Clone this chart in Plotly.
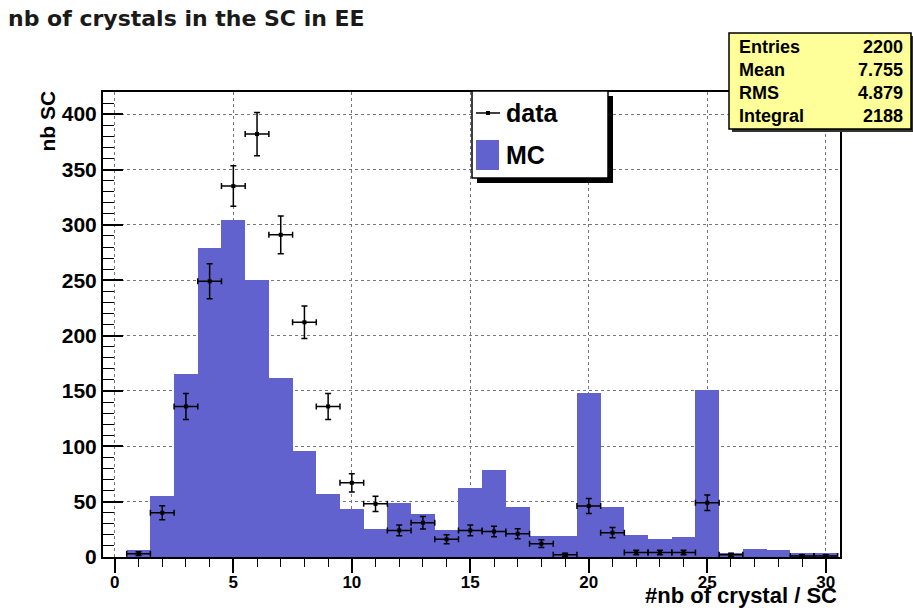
import plotly.graph_objects as go

# MC histogram (bin centres 0..30, width 1)
mc_bins = list(range(0, 31))
mc_counts = [0, 6, 55, 165, 279, 304, 250, 162, 96, 57, 43, 25, 49, 39, 24, 62,
             79, 45, 19, 19, 148, 45, 20, 16, 18, 151, 4, 7, 6, 4, 4]

# data points with errors
data_x = list(range(1, 31))
data_y = [3, 40, 136, 249, 335, 382, 291, 212, 136, 67, 48, 24, 31, 16, 24, 23,
          21, 12, 2, 46, 22, 4, 4, 4, 49, 2, None, None, 1, 1]
data_err = [1.7, 6.3, 11.7, 15.8, 18.3, 19.5, 17.1, 14.6, 11.7, 8.2, 6.9, 4.9,
            5.6, 4.0, 4.9, 4.8, 4.6, 3.5, 1.4, 6.8, 4.7, 2.0, 2.0, 2.0, 7.0,
            1.4, None, None, 1.0, 1.0]

stat_names = ["Entries", "Mean", "RMS", "Integral"]
stat_values = ["2200", "7.755", "4.879", "2188"]

MC_COLOR = "#6262ce"
W, H = 913, 608
L, R, T, B = 103, 73, 92, 51


def px(xp):
    return (xp - L) / (W - L - R)


def py(yp):
    return (H - B - yp) / (H - T - B)


fig = go.Figure()
fig.add_trace(go.Bar(x=mc_bins, y=mc_counts, width=1, name="MC",
                     marker=dict(color=MC_COLOR, line=dict(width=0)),
                     showlegend=False))
fig.add_trace(go.Scatter(
    x=data_x, y=data_y, mode="markers", name="data", showlegend=False,
    marker=dict(symbol="square", size=4, color="black"),
    error_y=dict(type="data", array=data_err, color="black", thickness=1.5, width=3),
    error_x=dict(type="constant", value=0.5, color="black", thickness=1.5, width=3),
))

shapes = []
annotations = []

# legend box (manual, ROOT style)
shapes.append(dict(type="rect", xref="paper", yref="paper", x0=px(477), x1=px(613),
                   y0=py(183), y1=py(96), fillcolor="black", line=dict(width=0)))
shapes.append(dict(type="rect", xref="paper", yref="paper", x0=px(472), x1=px(608),
                   y0=py(178), y1=py(91), fillcolor="white",
                   line=dict(color="black", width=1.5)))
shapes.append(dict(type="line", xref="paper", yref="paper", x0=px(476), x1=px(500),
                   y0=py(113), y1=py(113), line=dict(color="black", width=1.5)))
shapes.append(dict(type="rect", xref="paper", yref="paper", x0=px(486), x1=px(490),
                   y0=py(115), y1=py(111), fillcolor="black", line=dict(width=0)))
shapes.append(dict(type="rect", xref="paper", yref="paper", x0=px(476), x1=px(499),
                   y0=py(170), y1=py(140), fillcolor=MC_COLOR, line=dict(width=0)))
for name, yp in [("data", 113), ("MC", 155)]:
    annotations.append(dict(text="<b>%s</b>" % name, xref="paper", yref="paper",
                            x=px(504), y=py(yp), xanchor="left", yanchor="middle",
                            showarrow=False,
                            font=dict(family="Liberation Sans", size=25, color="black")))

# stats box
shapes.append(dict(type="rect", xref="paper", yref="paper", x0=px(732), x1=px(916),
                   y0=py(132), y1=py(36), fillcolor="#333333", line=dict(width=0)))
shapes.append(dict(type="rect", xref="paper", yref="paper", x0=px(729), x1=px(911),
                   y0=py(129), y1=py(33), fillcolor="#ffff99",
                   line=dict(color="black", width=1.5)))
for i, (n, v) in enumerate(zip(stat_names, stat_values)):
    yp = 47 + i * 23
    annotations.append(dict(text="<b>%s</b>" % n, xref="paper", yref="paper",
                            x=px(737), y=py(yp), xanchor="left", yanchor="middle",
                            showarrow=False,
                            font=dict(family="Liberation Sans", size=18, color="black")))
    annotations.append(dict(text="<b>%s</b>" % v, xref="paper", yref="paper",
                            x=px(905), y=py(yp), xanchor="right", yanchor="middle",
                            showarrow=False,
                            font=dict(family="Liberation Sans", size=18, color="black")))

# axis titles (ROOT puts them at the ends)
annotations.append(dict(text="<b>#nb of crystal / SC</b>", xref="paper", yref="paper",
                        x=px(839), y=py(595), xanchor="right", yanchor="middle",
                        showarrow=False,
                        font=dict(family="Liberation Sans", size=22, color="black")))
annotations.append(dict(text="<b>nb SC</b>", xref="paper", yref="paper",
                        x=px(47), y=py(89), xanchor="center", yanchor="top",
                        textangle=-90, showarrow=False,
                        font=dict(family="Liberation Sans", size=21, color="black")))

fig.update_layout(
    width=W, height=H,
    margin=dict(l=L, r=R, t=T, b=B),
    paper_bgcolor="white", plot_bgcolor="white",
    bargap=0,
    title=dict(text="<b>nb of crystals in the SC in EE</b>", x=8 / W, xanchor="left",
               y=1 - 18 / H, yanchor="middle",
               font=dict(family="DejaVu Sans", size=22, color="#1a1a1a")),
    shapes=shapes,
    annotations=annotations,
)
fig.update_xaxes(
    range=[-0.5, 30.6], tickmode="linear", tick0=0, dtick=5,
    ticks="outside", ticklen=14, tickwidth=1.5, tickcolor="black",
    ticklabelstandoff=-5,
    minor=dict(dtick=1, ticks="outside", ticklen=8, tickcolor="black", tickwidth=1),
    showline=True, linecolor="black", linewidth=2, mirror=True,
    showgrid=True, gridcolor="#777777", griddash="dot", gridwidth=1,
    zeroline=False,
    tickfont=dict(family="Liberation Sans", size=17, color="black", weight="bold"),
)
fig.update_yaxes(
    range=[0, 420], tickmode="linear", tick0=0, dtick=50,
    ticks="inside", ticklen=20, tickwidth=1.5, tickcolor="black",
    minor=dict(dtick=10, ticks="inside", ticklen=11, tickcolor="black", tickwidth=1),
    showline=True, linecolor="black", linewidth=2, mirror=True,
    showgrid=True, gridcolor="#777777", griddash="dot", gridwidth=1,
    zeroline=False,
    tickfont=dict(family="Liberation Sans", size=21, color="black", weight="bold"),
)

fig.write_html("out.html", config={"displayModeBar": False},
               post_script="document.body.style.margin='0';")
